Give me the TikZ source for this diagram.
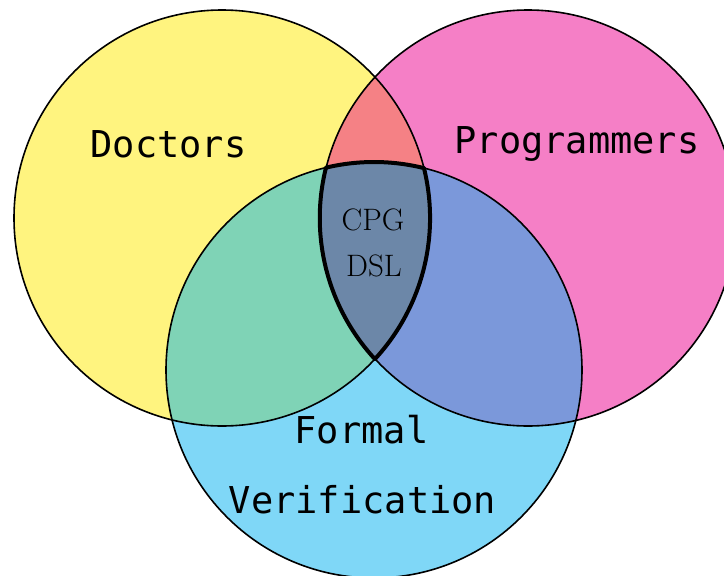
\documentclass[tikz,border=0pt]{standalone}
\usepackage{fontspec}
\usetikzlibrary{calc}
\newfontfamily\labelfont{DejaVu Sans Mono}
\definecolor{docyellow}{HTML}{FFF47F}
\definecolor{progpink}{HTML}{F57FC6}
\definecolor{fvcyan}{HTML}{7FD7F7}
\definecolor{docfv}{HTML}{7FD3B6}
\definecolor{docprog}{HTML}{F58185}
\definecolor{progfv}{HTML}{7B98DA}
\definecolor{allthree}{HTML}{6C87A8}
\tikzset{
  setline/.style={draw=black, line width=1.6pt},
  coreline/.style={draw=black, line width=4pt, line join=round},
  grouplabel/.style={font=\labelfont\fontsize{37}{40}\selectfont, anchor=base, inner sep=0pt},
  corelabel/.style={font=\fontsize{31}{34}\selectfont, anchor=base, inner sep=0pt},
}
\begin{document}
\begin{tikzpicture}[x=1pt, y=-1pt]
  \useasboundingbox (0,0) rectangle (724,576);
  \clip (0,0) rectangle (724,576);
  \def\R{208}
  \coordinate (Y) at (222,218);
  \coordinate (P) at (528,218);
  \coordinate (B) at (374,370);

  % single sets
  \fill[docyellow] (Y) circle[radius=\R];
  \fill[progpink] (P) circle[radius=\R];
  \fill[fvcyan] (B) circle[radius=\R];

  % pairwise overlaps
  \begin{scope}
    \clip (Y) circle[radius=\R];
    \fill[docfv] (B) circle[radius=\R];
  \end{scope}
  \begin{scope}
    \clip (Y) circle[radius=\R];
    \fill[docprog] (P) circle[radius=\R];
  \end{scope}
  \begin{scope}
    \clip (P) circle[radius=\R];
    \fill[progfv] (B) circle[radius=\R];
  \end{scope}
  % triple overlap
  \begin{scope}
    \clip (Y) circle[radius=\R];
    \clip (P) circle[radius=\R];
    \fill[allthree] (B) circle[radius=\R];
  \end{scope}

  % outlines
  \draw[setline] (Y) circle[radius=\R];
  \draw[setline] (P) circle[radius=\R];
  \draw[setline] (B) circle[radius=\R];

  % bold outline of the common region
  \draw[coreline]
    ($(B)+(256.7:\R)$) arc[start angle=256.7, end angle=283.9, radius=\R]
    arc[start angle=-13.9, end angle=42.7, radius=\R]
    arc[start angle=137.3, end angle=193.9, radius=\R] -- cycle;

  % labels
  \node[grouplabel] (doc) at (168.5,157) {Doctors};
  \node[grouplabel] (prog) at (577,153) {Programmers};
  \node[grouplabel] (fv1) at (361.5,443) {Formal};
  \node[grouplabel] (fv2) at (362.5,513) {Verification};
  \node[corelabel] (cpg) at (373,230) {CPG};
  \node[corelabel] (dsl) at (374,276) {DSL};
\end{tikzpicture}
\end{document}
